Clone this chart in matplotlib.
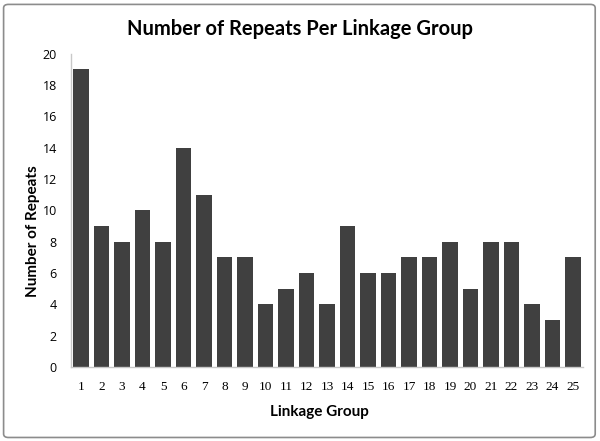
import matplotlib
matplotlib.use("Agg")
import matplotlib.pyplot as plt
from matplotlib.patches import FancyBboxPatch

groups = [str(i) for i in range(1, 26)]
repeats = [19, 9, 8, 10, 8, 14, 11, 7, 7, 4, 5, 6, 4, 9, 6, 6, 7, 7, 8, 5, 8, 8, 4, 3, 7]
yticks = list(range(0, 21, 2))

fig = plt.figure(figsize=(6, 4.41), dpi=100)
# chart border
fig.patches.append(FancyBboxPatch((0.006, 0.008), 0.986, 0.982, boxstyle="round,pad=0,rounding_size=0.008",
                                  transform=fig.transFigure, fill=False, edgecolor="#8c8c8c", linewidth=1.2))

ax = fig.add_axes([0.118, 0.168, 0.854, 0.71])
x = list(range(len(groups)))
ax.bar(x, repeats, width=0.74, color="#404040")

ax.set_xlim(-0.5, len(groups) - 0.5)
ax.set_ylim(0, 20)
ax.set_yticks(yticks)
ax.set_xticks(x)
ax.set_xticklabels(groups, family="Liberation Serif", fontsize=9.5)
ax.tick_params(axis="y", labelsize=9, length=0, pad=10)
ax.tick_params(axis="x", length=0, pad=10)
for lab in ax.get_yticklabels():
    lab.set_family("Open Sans")

for s in ["top", "right"]:
    ax.spines[s].set_visible(False)
for s in ["left", "bottom"]:
    ax.spines[s].set_color("#c8c8c8")
    ax.spines[s].set_linewidth(1)

fig.text(0.5, 0.935, "Number of Repeats Per Linkage Group", ha="center", va="center",
         family="Lato", fontweight="bold", fontsize=14.5)
fig.text(0.055, 0.475, "Number of Repeats", rotation=90, ha="center", va="center",
         family="Lato", fontweight="bold", fontsize=11)
fig.text(0.533, 0.066, "Linkage Group", ha="center", va="center",
         family="Lato", fontweight="bold", fontsize=11)

fig.savefig("out.png", dpi=100)
